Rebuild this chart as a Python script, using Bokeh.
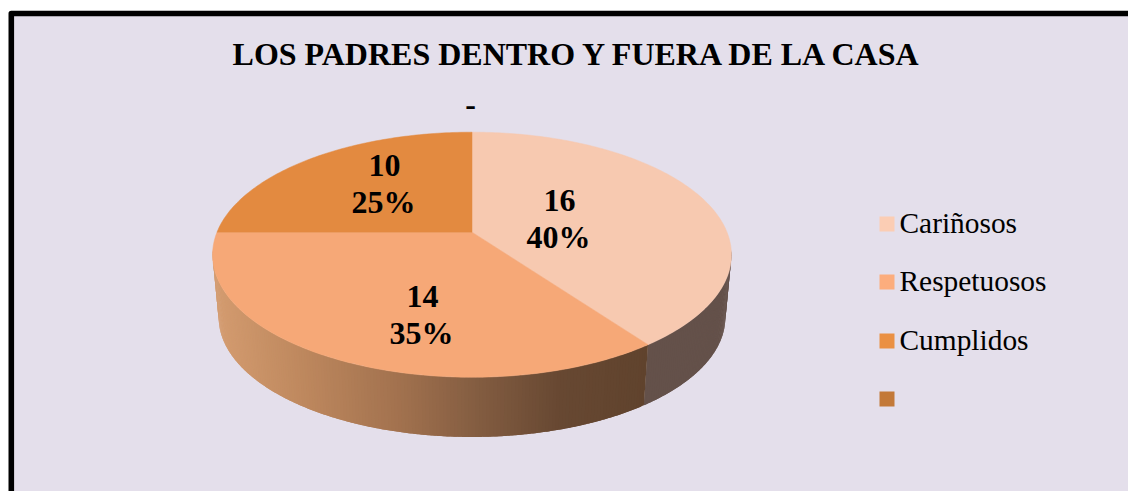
import math
from bokeh.plotting import figure
from bokeh.models import Range1d
from bokeh.core.properties import value
from bokeh.embed import file_html
from bokeh.resources import INLINE

# ---- data
TITLE = "LOS PADRES DENTRO Y FUERA DE LA CASA"
SUBTITLE = "-"
CATEGORIES = ["Cariñosos", "Respetuosos", "Cumplidos", ""]
VALUES = [16, 14, 10, 0]
PERCENT_LABELS = ["40%", "35%", "25%", ""]

# ---- style
TOP_COLORS = ["#F7C9B0", "#F6A877", "#E38A40", "#C17837"]
LEGEND_COLORS = ["#FBCDB4", "#FCAD7D", "#EA9043", "#C37938"]
BG = "#E4DFEB"
FONT = value("Liberation Serif")
W, H = 1128, 491

CX, CY = 471.5, 231.7
A, B, K = 255.0, 118.4, 0.1837
A2, B2, DY = 249.0, 115.4, 63.4

SIDE_STOPS = [(212, (0xD4, 0x9C, 0x70)), (300, (0xBE, 0x88, 0x5E)), (400, (0xA1, 0x71, 0x4E)),
              (472, (0x85, 0x5E, 0x42)), (560, (0x67, 0x48, 0x32)), (648, (0x60, 0x43, 0x2D))]
SIDE_RIGHT = "#64514A"


def top_pt(deg):
    t = math.radians(deg)
    w = 1 + K * math.cos(t)
    return CX + A * math.sin(t) / w, CY - B * math.cos(t) / w


def bottom_pt(deg):
    t = math.radians(deg)
    w = 1 + K * math.cos(t)
    return CX + A2 * math.sin(t) / w, CY + DY - B2 * math.cos(t) / w


def side_color(x):
    if x <= SIDE_STOPS[0][0]:
        c = SIDE_STOPS[0][1]
    elif x >= SIDE_STOPS[-1][0]:
        c = SIDE_STOPS[-1][1]
    else:
        for (x0, c0), (x1, c1) in zip(SIDE_STOPS, SIDE_STOPS[1:]):
            if x0 <= x <= x1:
                f = (x - x0) / (x1 - x0)
                c = tuple(c0[i] + (c1[i] - c0[i]) * f for i in range(3))
                break
    return "#%02X%02X%02X" % tuple(int(round(v)) for v in c)


p = figure(width=W, height=H, x_range=Range1d(0, W), y_range=Range1d(H, 0),
           toolbar_location=None, output_backend="svg", min_border=0,
           background_fill_color="white", border_fill_color="white")
p.axis.visible = False
p.grid.visible = False
p.outline_line_color = None

# panel and its heavy border
p.quad(left=[10.8], right=[W + 20], top=[13], bottom=[H + 20], fill_color=BG, line_color="black",
       line_width=5.6, line_join="round")

# angular extents from the values
total = sum(VALUES)
angles = [0.0]
for v in VALUES:
    angles.append(angles[-1] + 360.0 * v / total)

VIS_START = math.degrees(math.acos(-K))

# side wall: each strip runs a little under the next so no seams show
sx, sy, sc = [], [], []
for i, col in enumerate([SIDE_RIGHT, None]):
    a0 = max(angles[i], VIS_START - 2)
    a1 = min(angles[i + 1], 360 - VIS_START + 2)
    n = max(2, int((a1 - a0) * 1.5))
    for j in range(n):
        d0 = a0 + (a1 - a0) * j / n
        d1 = a0 + (a1 - a0) * (j + 1) / n
        dm = (d0 + d1) / 2
        d2 = min(a1, d1 + (a1 - a0) / n)
        arc = [d0, dm, d1, d2]
        ts = [top_pt(d) for d in arc]
        bs = [bottom_pt(d) for d in reversed(arc)]
        sx.append([q[0] for q in ts + bs])
        sy.append([q[1] for q in ts + bs])
        sc.append(col or side_color((ts[0][0] + ts[2][0]) / 2))
p.patches(sx, sy, fill_color=sc, line_color=None)

# top face
for i, v in enumerate(VALUES):
    if v == 0:
        continue
    n = max(8, int(angles[i + 1] - angles[i]))
    pts = [top_pt(angles[i] + (angles[i + 1] - angles[i]) * j / n) for j in range(n + 1)]
    xs = [CX] + [q[0] for q in pts]
    ys = [CY] + [q[1] for q in pts]
    p.patch(xs, ys, fill_color=TOP_COLORS[i], line_color=TOP_COLORS[i], line_width=0.5)

# texts
p.text([578], [53], text=[TITLE], text_font=FONT, text_font_style="bold", text_font_size="32px",
       text_align="center", text_baseline="middle", text_color="black")
p.text([470], [104], text=[SUBTITLE], text_font=FONT, text_font_style="bold", text_font_size="32px",
       text_align="center", text_baseline="middle", text_color="black")

LABEL_X = [559, 422, 384]
LABEL_Y = [200, 296, 165]
LABEL_X2 = [558, 421, 383]
for i in range(3):
    p.text([LABEL_X[i]], [LABEL_Y[i]], text=[str(VALUES[i])], text_font=FONT, text_font_style="bold",
           text_font_size="32px", text_align="center", text_baseline="middle", text_color="black")
    p.text([LABEL_X2[i]], [LABEL_Y[i] + 36], text=[PERCENT_LABELS[i]], text_font=FONT,
           text_font_style="bold", text_font_size="32px", text_align="center", text_baseline="middle",
           text_color="black")

# legend
LEG_Y = [223.5, 281.5, 340.5, 398.5]
for i, c in enumerate(CATEGORIES):
    p.scatter([886.5], [LEG_Y[i]], marker="square", size=15, fill_color=LEGEND_COLORS[i], line_color=None)
    if c:
        p.text([899], [LEG_Y[i] - 0.8], text=[c], text_font=FONT, text_font_size="29.4px",
               text_align="left", text_baseline="middle", text_color="black")

open("out.html", "w").write(file_html(p, INLINE))
